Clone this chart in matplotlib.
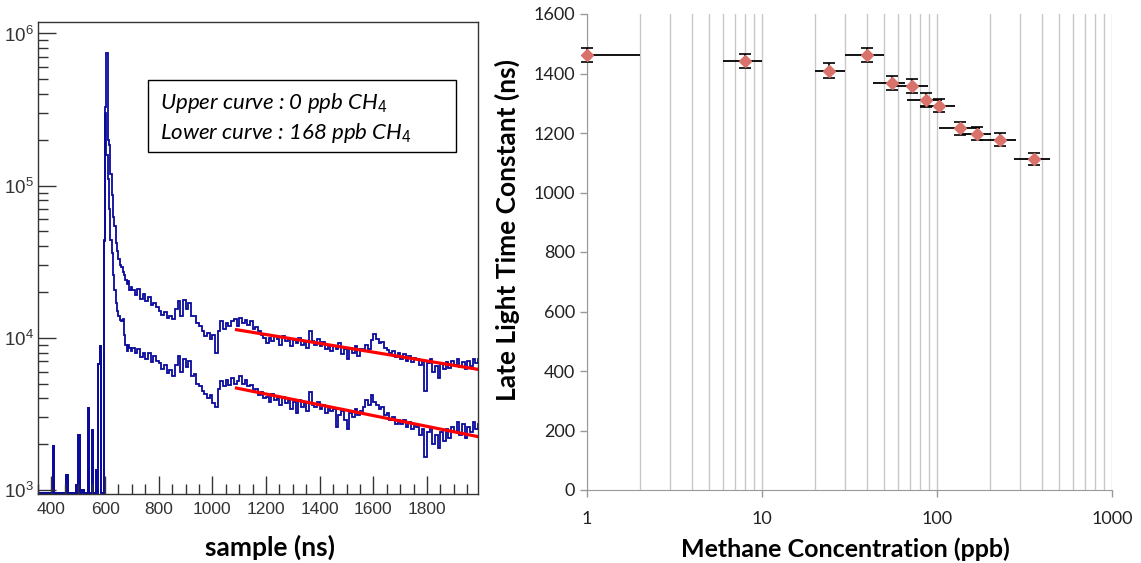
import numpy as np
import matplotlib
matplotlib.use("Agg")
import matplotlib.pyplot as plt
from matplotlib.ticker import LogLocator, NullFormatter, MultipleLocator
from matplotlib.patches import Rectangle

# ---- left panel: waveforms (counts per bin) ----
spike_t = [405, 455, 490, 500, 515, 535, 550, 565, 575, 580]
spike_h = [1950, 1250, 1080, 2300, 1000, 3470, 2480, 1350, 6700, 8800]

peak_t = [590, 595, 600, 605, 610, 615, 620, 625, 630, 635, 640,
          645, 650, 655, 660, 665, 670, 675, 680, 685, 690, 695]
upper_peak = [950, 43000, 330000, 750000, 200000, 185000, 120000, 87000, 62000, 54000, 42000,
              37000, 33000, 30000, 29000, 27000, 26000, 24000, 22500, 23500, 20500, 21500]
lower_peak = [950, 44000, 300000, 160000, 110000, 70000, 44000, 36000, 26000, 20500, 17000,
              15000, 14000, 13000, 12800, 13200, 10500, 9000, 8200, 9000, 8600, 8200]

# 10 ns bins from 700 to 1990 ns, values in thousands
upper_tail = [
    20.5, 19.0, 21.0, 18.0, 19.5, 17.5, 18.5, 16.5, 17.0, 16.0,
    15.0, 14.2, 14.8, 13.5, 13.8, 13.2, 15.5, 17.5, 14.0, 17.8,
    15.5, 17.0, 13.8, 14.0, 12.5, 12.0, 11.0, 10.2, 10.8, 9.8,
    10.5, 8.0, 11.0, 12.8, 11.5, 12.5, 12.0, 12.8, 13.2, 12.0,
    13.5, 12.5, 13.0, 12.2, 12.8, 11.5, 11.8, 11.0, 10.5, 10.0,
    9.2, 10.0, 9.5, 10.2, 9.8, 9.0, 10.3, 9.5, 9.8, 8.8,
    9.6, 9.2, 10.0, 9.0, 9.4, 8.6, 11.0, 9.5, 9.0, 9.8,
    8.8, 9.4, 8.4, 9.0, 8.2, 8.8, 8.5, 9.2, 7.8, 8.4,
    7.2, 8.6, 8.0, 8.8, 7.6, 8.4, 8.2, 9.0, 8.5, 9.6,
    10.6, 9.8, 9.2, 9.4, 8.6, 8.3, 7.9, 8.2, 7.5, 8.0,
    7.3, 7.8, 7.0, 7.6, 6.9, 7.4, 7.2, 6.6, 7.0, 4.5,
    6.8, 7.2, 6.0, 6.5, 5.4, 6.8, 6.2, 6.9, 6.3, 7.0,
    6.6, 7.2, 6.4, 6.9, 6.2, 7.0, 6.5, 7.2, 6.8, 7.3,
]
lower_tail = [
    8.6, 8.0, 8.5, 7.5, 7.9, 7.2, 8.0, 6.9, 7.6, 7.0,
    6.8, 6.2, 6.6, 5.9, 6.1, 5.6, 6.6, 7.6, 6.0, 7.3,
    6.4, 7.0, 5.6, 5.8, 5.0, 4.8, 4.5, 4.3, 4.0, 4.2,
    3.7, 3.5, 4.6, 5.2, 4.8, 5.3, 4.9, 5.4, 5.0, 5.2,
    5.6, 5.0, 5.3, 4.8, 4.9, 4.4, 4.6, 4.2, 4.4, 4.0,
    4.1, 3.8, 4.3, 3.9, 4.0, 3.6, 4.1, 3.7, 3.9, 3.4,
    3.8, 3.2, 3.9, 3.5, 3.7, 3.3, 4.4, 3.6, 3.5, 3.8,
    3.4, 3.6, 3.2, 3.5, 3.3, 3.4, 2.6, 3.1, 3.3, 2.9,
    2.5, 3.2, 3.0, 3.4, 3.1, 3.3, 3.5, 3.9, 3.6, 4.2,
    3.8, 3.6, 3.4, 3.5, 3.1, 3.2, 2.9, 3.0, 2.7, 2.9,
    2.7, 2.9, 2.6, 2.8, 2.5, 2.7, 2.6, 2.3, 2.5, 1.65,
    2.4, 2.6, 2.0, 2.3, 1.9, 2.4, 2.1, 2.5, 2.2, 2.6,
    2.4, 2.8, 2.3, 2.7, 2.2, 2.6, 2.4, 2.8, 2.5, 2.7,
]

# exponential fit end points (ns, counts)
fit_t = [1090, 1990]
fit_upper = [11300, 6200]
fit_lower = [4670, 2240]

# ---- right panel: time constant vs methane ----
conc = [1, 8, 24, 40, 55, 72, 86, 102, 136, 169, 230, 356]
conc_lo = [0.5, 6, 20, 30, 43, 57, 67, 80, 103, 134, 175, 274]
conc_hi = [2, 10, 30, 50, 66, 89, 107, 126, 175, 204, 284, 443]
tau = [1463, 1442, 1410, 1463, 1368, 1358, 1311, 1291, 1216, 1198, 1178, 1114]
tau_err = [24, 24, 24, 24, 24, 24, 22, 22, 22, 22, 22, 20]


def build_hist(peak_vals, tail_k):
    fine_edges = np.arange(350, 705, 5)
    vals = np.full(len(fine_edges) - 1, 950.0)
    for t, h in zip(spike_t, spike_h):
        vals[(t - 350) // 5] = h
    for t, v in zip(peak_t, peak_vals):
        vals[(t - 350) // 5] = v
    coarse_edges = np.arange(700, 2010, 10)
    edges = np.concatenate([fine_edges[:-1], coarse_edges])
    values = np.concatenate([vals, np.array(tail_k) * 1000])
    return edges, values


plt.rcParams["mathtext.fontset"] = "custom"
plt.rcParams["mathtext.rm"] = "Liberation Sans"
plt.rcParams["mathtext.it"] = "Lato:italic"

fig = plt.figure(figsize=(11.41, 5.63), dpi=100)

# left panel
ax1 = fig.add_axes([38 / 1141, 69 / 563, 440 / 1141, 472 / 563])
blue = "#0a0a9c"
for pk, tail in [(upper_peak, upper_tail), (lower_peak, lower_tail)]:
    e, v = build_hist(pk, tail)
    ax1.stairs(v, e, color=blue, lw=1.3, baseline=None)
ax1.plot(fit_t, fit_upper, color="red", lw=2.3)
ax1.plot(fit_t, fit_lower, color="red", lw=2.3)

ax1.set_yscale("log")
ax1.set_xlim(350, 1990)
ax1.set_ylim(940, 1.19e6)
ax1.set_xticks(range(400, 2000, 200))
ax1.xaxis.set_minor_locator(MultipleLocator(50))
ax1.yaxis.set_major_locator(LogLocator(base=10))
ax1.yaxis.set_minor_locator(LogLocator(base=10, subs=range(2, 10)))
ax1.yaxis.set_minor_formatter(NullFormatter())
ax1.tick_params(which="major", direction="in", length=13, width=1, color="#333333",
                labelsize=12.5, labelcolor="#333333")
ax1.tick_params(which="minor", direction="in", length=7, width=1, color="#333333")
ax1.tick_params(axis="x", pad=6)
ax1.tick_params(axis="y", pad=3, labelsize=13.5)
for lab in ax1.get_xticklabels() + ax1.get_yticklabels():
    lab.set_fontfamily("Liberation Sans")
for s in ax1.spines.values():
    s.set_color("#333333")
    s.set_linewidth(1.0)
ax1.set_xlabel("sample (ns)", fontfamily="Lato", fontweight="bold", fontsize=19)
ax1.xaxis.set_label_coords(0.528, -0.112)
ax1.xaxis.label.set_va("center")

ax1.add_patch(Rectangle((0.25, 0.725), 0.70, 0.152, transform=ax1.transAxes,
                        fill=False, edgecolor="black", lw=1.0))
ax1.text(0.277, 0.828, "Upper curve : 0 ppb CH$_4$", transform=ax1.transAxes,
         fontfamily="Lato", fontstyle="italic", fontsize=16, va="center")
ax1.text(0.277, 0.765, "Lower curve : 168 ppb CH$_4$", transform=ax1.transAxes,
         fontfamily="Lato", fontstyle="italic", fontsize=16, va="center")

# right panel
ax2 = fig.add_axes([587 / 1141, 73 / 563, 525 / 1141, 476 / 563])
ax2.set_xscale("log")
ax2.set_xlim(1, 1000)
ax2.set_ylim(0, 1600)
ax2.grid(True, which="both", axis="x", color="#c8c8c8", lw=1.0)
ax2.set_axisbelow(True)

xerr = [np.array(conc) - np.array(conc_lo), np.array(conc_hi) - np.array(conc)]
ax2.errorbar(conc, tau, xerr=xerr, fmt="none", ecolor="black", elinewidth=1.3,
             capsize=0, clip_on=True)
ax2.errorbar(conc, tau, yerr=tau_err, fmt="D", color="#d9726a", markersize=6.5,
             ecolor="black", elinewidth=1.2, capsize=4, capthick=1.2, clip_on=False,
             zorder=5)

ax2.set_yticks(range(0, 1601, 200))
ax2.set_xticks([1, 10, 100, 1000], labels=["1", "10", "100", "1000"])
ax2.xaxis.set_minor_formatter(NullFormatter())
ax2.tick_params(which="minor", length=0)
ax2.tick_params(which="major", direction="out", length=5, width=1, color="#999999",
                labelsize=13, labelcolor="#222222")
ax2.tick_params(axis="x", pad=10)
for lab in ax2.get_xticklabels() + ax2.get_yticklabels():
    lab.set_fontfamily("Lato")
ax2.spines["top"].set_visible(False)
ax2.spines["right"].set_visible(False)
ax2.spines["left"].set_color("#999999")
ax2.spines["bottom"].set_color("#999999")

ax2.set_xlabel("Methane Concentration (ppb)", fontfamily="Lato", fontweight="bold",
               fontsize=18)
ax2.xaxis.set_label_coords(0.493, -0.124)
ax2.xaxis.label.set_va("center")
ax2.set_ylabel("Late Light Time Constant (ns)", fontfamily="Lato", fontweight="bold",
               fontsize=19)
ax2.yaxis.set_label_coords(-0.152, 0.546)
ax2.yaxis.label.set_va("center")

fig.savefig("out.png", dpi=100)
